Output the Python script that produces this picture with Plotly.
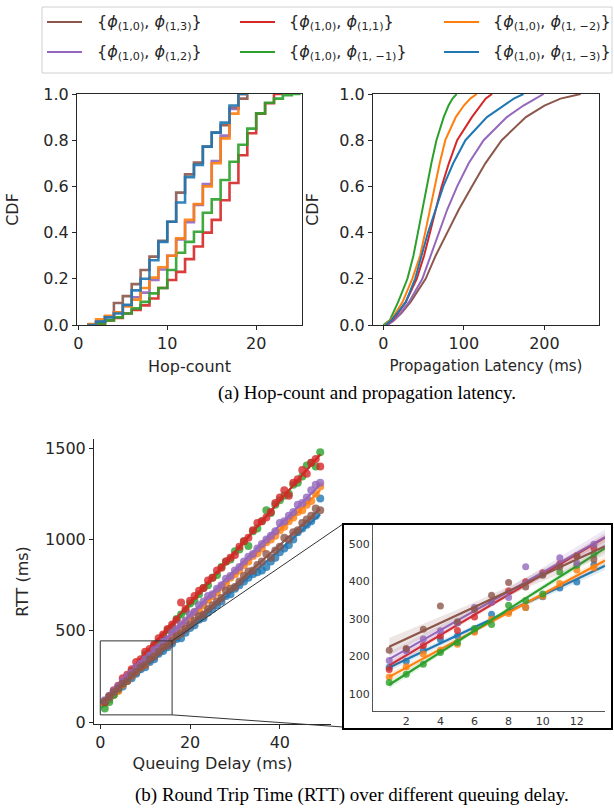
import numpy as np
import plotly.graph_objects as go

W, H = 614, 808
def X(px): return px / W
def Y(py): return 1 - py / H

# ---------------- series ----------------
labels = ["(1,3)", "(1,2)", "(1,1)", "(1, −1)", "(1, −2)", "(1, −3)"]
colors = ["#8c564b", "#9467bd", "#d62728", "#2ca02c", "#ff7f0e", "#1f77b4"]

# ---------------- (a-left) hop-count CDF (value at hop = 1, 2, ...) ----------------
hop_brown  = [0, .014, .036, .095, .125, .177, .238, .296, .364, .447, .573, .652, .703, .772, .833, .865, .94, .98, 1.0]
hop_purple = [0, .015, .035, .055, .085, .12, .14, .195, .24, .30, .37, .445, .52, .61, .71, .82, .935, 1.0, 1.0]
hop_red    = [0, .005, .02, .03, .05, .065, .085, .115, .16, .195, .23, .285, .34, .40, .455, .54, .615, .735, .83, .915, .96, 1.0, 1.0]
hop_green  = [0, .007, .02, .033, .05, .072, .10, .137, .16, .238, .313, .36, .404, .486, .544, .628, .707, .78, .85, .916, .962, .98, .995, 1.0, 1.0]
hop_orange = [.004, .025, .04, .055, .08, .11, .16, .205, .25, .30, .375, .455, .524, .60, .70, .808, .915, 1.0, 1.0]
hop_blue   = [0, .015, .033, .05, .087, .15, .20, .28, .36, .447, .53, .64, .693, .772, .833, .876, .95, 1.0, 1.0]

# ---------------- (a-right) propagation latency CDF ----------------
cdf_levels  = [0, .02, .05, .1, .2, .3, .4, .5, .6, .7, .8, .9, .95, .98, 1.0]
lat_brown   = [5, 13, 22, 34, 52.6, 65, 79.4, 93.8, 110, 126.7, 147, 177, 200, 220, 245]
lat_purple  = [5, 13, 21, 32, 48.5, 58.8, 69, 79.4, 91.7, 106, 124.6, 153.4, 174, 188, 199]
lat_red     = [3, 11, 18, 28, 41.5, 50.6, 58, 65, 72.4, 81.4, 91.7, 110, 120, 127, 135]
lat_green   = [0, 8, 12, 18.5, 30, 37.4, 43, 48.5, 53.5, 59.7, 66, 75, 81, 86, 91]
lat_orange  = [2, 9, 15, 24, 36, 45.7, 52, 58, 64, 70, 77, 90, 100, 108, 116]
lat_blue    = [3, 10, 17, 28, 39.5, 47.7, 55.5, 65, 74.5, 86.8, 102, 128.7, 149, 162, 174]

# ---------------- (b) RTT vs queuing delay ----------------
qdelay = list(range(1, 50))
rtt_blue   = [105, 125, 150, 175, 195, 225, 240, 265, 290, 300, 330, 345, 375, 390, 410, 430, 455, 460, 490, 515,
              530, 560, 570, 600, 620, 640, 660, 690, 700, 730, 750, 770, 790, 810, 820, 830, 850, 880, 900, 930,
              950, 970, 1000, 1040, 1060, 1080, 1100, 1130, 1225]
rtt_orange = [105, 130, 150, 170, 205, 230, 255, 280, 300, 315, 355, 375, 400, 425, 445, 480, 490, 525, 550, 570,
              600, 610, 640, 670, 690, 710, 740, 760, 790, 810, 830, 860, 880, 910, 925, 950, 985, 1000, 1020, 1050,
              1070, 1100, 1120, 1150, 1160, 1190, 1210, 1250, 1290]
rtt_green  = [75, 110, 150, 185, 215, 240, 280, 300, 325, 370, 385, 420, 440, 470, 505, 520, 565, 590, 610, 650,
              665, 700, 735, 750, 790, 805, 850, 880, 890, 935, 945, 990, 965, 1045, 1060, 1100, 1160, 1145, 1190, 1215,
              1240, 1250, 1300, 1310, 1345, 1405, 1420, 1400, 1478]
rtt_red    = [110, 140, 175, 200, 240, 260, 290, 330, 345, 385, 400, 425, 460, 480, 510, 535, 560, 655, 620, 665,
              690, 720, 735, 775, 790, 830, 845, 880, 900, 915, 960, 990, 1010, 1050, 1090, 1100, 1120, 1150, 1200, 1230,
              1270, 1240, 1310, 1330, 1380, 1360, 1420, 1440, 1400]
rtt_purple = [120, 145, 170, 195, 225, 250, 270, 300, 320, 345, 365, 395, 410, 440, 455, 490, 510, 535, 555, 590,
              605, 640, 660, 690, 700, 730, 750, 785, 800, 830, 850, 880, 905, 920, 950, 975, 1000, 1020, 1045, 1090,
              1100, 1130, 1150, 1190, 1200, 1230, 1270, 1300, 1310]
rtt_brown  = [115, 140, 165, 185, 210, 225, 255, 275, 300, 315, 345, 360, 385, 410, 420, 445, 470, 485, 510, 530,
              555, 580, 590, 620, 640, 660, 680, 720, 730, 740, 770, 800, 825, 830, 860, 880, 920, 900, 940, 960,
              1010, 1000, 1040, 1050, 1090, 1110, 1130, 1170, 1160]

# zoomed inset (queuing delay 1..13)
zoom_delay = list(range(1, 14))
zrtt_blue   = [172, 188, 217, 246, 255, 268, 313, 320, 331, 360, 383, 399, 445]
zrtt_orange = [146, 173, 207, 217, 233, 265, 300, 315, 331, 361, 395, 431, 437]
zrtt_green  = [131, 153, 180, 211, 238, 275, 286, 337, 350, 367, 426, 444, 473]
zrtt_red    = [166, 219, 230, 255, 270, 306, 345, 375, 400, 424, 448, 470, 490]
zrtt_purple = [190, 215, 247, 269, 290, 331, 345, 358, 440, 420, 464, 450, 500]
zrtt_brown  = [217, 222, 273, 335, 293, 325, 364, 398, 386, 417, 440, 468, 459]

hop_all = [hop_brown, hop_purple, hop_red, hop_green, hop_orange, hop_blue]
lat_all = [lat_brown, lat_purple, lat_red, lat_green, lat_orange, lat_blue]
rtt_all = [rtt_brown, rtt_purple, rtt_red, rtt_green, rtt_orange, rtt_blue]
zrtt_all = [zrtt_brown, zrtt_purple, zrtt_red, zrtt_green, zrtt_orange, zrtt_blue]

def rgba(hexc, a):
    h = hexc.lstrip('#')
    return f"rgba({int(h[0:2],16)},{int(h[2:4],16)},{int(h[4:6],16)},{a})"

fig = go.Figure()

# ---- top-left: hop-count step CDFs ----
for vals, c in zip(hop_all, colors):
    hops = list(range(1, len(vals) + 1))
    fig.add_trace(go.Scatter(x=hops, y=vals, mode='lines', line=dict(color=c, width=2.6, shape='hv'),
                             opacity=0.9, xaxis='x', yaxis='y', showlegend=False, hoverinfo='skip'))

# ---- top-right: latency CDFs ----
for vals, c in zip(lat_all, colors):
    fig.add_trace(go.Scatter(x=vals, y=cdf_levels, mode='lines', line=dict(color=c, width=2),
                             xaxis='x2', yaxis='y2', showlegend=False, hoverinfo='skip'))

# ---- regression helper ----
def fit_band(xs, ys, xline, tcrit):
    xs = np.asarray(xs, float); ys = np.asarray(ys, float)
    b, a = np.polyfit(xs, ys, 1)
    yhat = a + b * xline
    resid = ys - (a + b * xs)
    n = len(xs)
    s = np.sqrt(np.sum(resid ** 2) / (n - 2))
    sxx = np.sum((xs - xs.mean()) ** 2)
    se = s * np.sqrt(1.0 / n + (xline - xs.mean()) ** 2 / sxx)
    return yhat, yhat - tcrit * se, yhat + tcrit * se

draw_order = [5, 4, 3, 2, 1, 0]  # blue, orange, green, red, purple, brown

# ---- bottom main scatter + regression ----
xl_main = np.linspace(0.3, 49, 60)
for i in draw_order:
    c = colors[i]
    yhat, lo, hi = fit_band(qdelay, rtt_all[i], xl_main, 2.012)
    fig.add_trace(go.Scatter(x=qdelay, y=rtt_all[i], mode='markers',
                             marker=dict(color=c, size=8, opacity=0.8, line=dict(width=0)),
                             xaxis='x3', yaxis='y3', showlegend=False, hoverinfo='skip'))
    fig.add_trace(go.Scatter(x=np.concatenate([xl_main, xl_main[::-1]]), y=np.concatenate([hi, lo[::-1]]),
                             fill='toself', fillcolor=rgba(c, 0.15), line=dict(width=0), mode='lines',
                             xaxis='x3', yaxis='y3', showlegend=False, hoverinfo='skip'))
    fig.add_trace(go.Scatter(x=xl_main, y=yhat, mode='lines', line=dict(color=c, width=2),
                             xaxis='x3', yaxis='y3', showlegend=False, hoverinfo='skip'))

# ---- inset ----
xl_zoom = np.linspace(1, 13.65, 40)
for i in draw_order:
    c = colors[i]
    yhat, lo, hi = fit_band(zoom_delay, zrtt_all[i], xl_zoom, 2.201)
    fig.add_trace(go.Scatter(x=zoom_delay, y=zrtt_all[i], mode='markers',
                             marker=dict(color=c, size=7, opacity=0.8, line=dict(width=0)),
                             xaxis='x4', yaxis='y4', showlegend=False, hoverinfo='skip'))
    fig.add_trace(go.Scatter(x=np.concatenate([xl_zoom, xl_zoom[::-1]]), y=np.concatenate([hi, lo[::-1]]),
                             fill='toself', fillcolor=rgba(c, 0.15), line=dict(width=0), mode='lines',
                             xaxis='x4', yaxis='y4', showlegend=False, hoverinfo='skip'))
    fig.add_trace(go.Scatter(x=xl_zoom, y=yhat, mode='lines', line=dict(color=c, width=2.2),
                             xaxis='x4', yaxis='y4', showlegend=False, hoverinfo='skip'))

# ---------------- axes ----------------
FONT = "DejaVu Sans"
AX = '#262626'
tick_font = dict(family=FONT, size=16, color=AX)
title_font = dict(family=FONT, size=16, color=AX)
boxed = dict(showline=True, mirror=True, linecolor=AX, linewidth=1, ticks='outside', ticklen=4,
             tickcolor=AX, tickfont=tick_font, showgrid=False, zeroline=False, automargin=False)
open_ax = dict(showline=True, mirror=False, linecolor=AX, linewidth=1, ticks='outside', ticklen=4,
               tickcolor=AX, tickfont=tick_font, showgrid=False, zeroline=False, automargin=False)
inset_ax = dict(showline=True, mirror=False, linecolor='#555', linewidth=1, ticks='',
                tickfont=dict(family=FONT, size=11, color='#333'), showgrid=False, zeroline=False,
                automargin=False)
cdf_ticks = [0, 0.2, 0.4, 0.6, 0.8, 1.0]

fig.update_layout(
    width=W, height=H, margin=dict(l=0, r=0, t=0, b=0, autoexpand=False),
    paper_bgcolor='white', plot_bgcolor='white', showlegend=False,
    xaxis=dict(domain=[X(77), X(302)], range=[-0.15, 25.15], tickvals=[0, 10, 20],
               title=dict(text="Hop-count", font=title_font, standoff=8), anchor='y', **boxed),
    yaxis=dict(domain=[Y(325), Y(94)], range=[0, 1], tickvals=cdf_ticks,
               ticktext=[f"{v:.1f}" for v in cdf_ticks],
               title=dict(text="CDF", font=title_font, standoff=20), anchor='x', **boxed),
    xaxis2=dict(domain=[X(373), X(599)], range=[-12.75, 267.75], tickvals=[0, 100, 200],
                title=dict(text="Propagation Latency (ms)", font=dict(family=FONT, size=15, color=AX), standoff=8),
                anchor='y2', **boxed),
    yaxis2=dict(domain=[Y(325), Y(94)], range=[0, 1], tickvals=cdf_ticks,
                ticktext=[f"{v:.1f}" for v in cdf_ticks],
                title=dict(text="CDF", font=title_font, standoff=16), anchor='x2', **boxed),
    xaxis3=dict(domain=[X(94), X(331)], range=[-1.4, 51.4], tickvals=[0, 20, 40],
                title=dict(text="Queuing Delay (ms)", font=title_font, standoff=6), anchor='y3', **open_ax),
    yaxis3=dict(domain=[Y(724), Y(439)], range=[-10, 1550], tickvals=[0, 500, 1000, 1500],
                title=dict(text="RTT (ms)", font=title_font, standoff=12), anchor='x3', **open_ax),
    xaxis4=dict(domain=[X(373), X(605)], range=[0.05, 13.65], tickvals=[2, 4, 6, 8, 10, 12],
                anchor='y4', **inset_ax),
    yaxis4=dict(domain=[Y(711), Y(525)], range=[55, 551], tickvals=[100, 200, 300, 400, 500],
                anchor='x4', **inset_ax),
)

# ---------------- zoom indicator + connectors ----------------
zx0, zx1, zy0, zy1 = 0, 16, 40, 445
fig.add_shape(type='rect', xref='x3', yref='y3', x0=zx0, x1=zx1, y0=zy0, y1=zy1,
              line=dict(color='#333', width=1), fillcolor='rgba(0,0,0,0)')

def to_paper(v, rng, dom):
    return dom[0] + (v - rng[0]) / (rng[1] - rng[0]) * (dom[1] - dom[0])

xr3, yr3 = [-1.4, 51.4], [-10, 1550]
xd3, yd3 = [X(94), X(331)], [Y(724), Y(439)]
cx = to_paper(zx1, xr3, xd3)
fig.add_shape(type='line', xref='paper', yref='paper', x0=cx, y0=to_paper(zy1, yr3, yd3),
              x1=X(343), y1=Y(524), line=dict(color='#333', width=1))
fig.add_shape(type='line', xref='paper', yref='paper', x0=cx, y0=to_paper(zy0, yr3, yd3),
              x1=X(343), y1=Y(727), line=dict(color='#333', width=1))
# inset frame
fig.add_shape(type='rect', xref='paper', yref='paper', x0=X(343), x1=X(612), y0=Y(729), y1=Y(524),
              line=dict(color='black', width=2), fillcolor='rgba(0,0,0,0)')

# ---------------- legend (drawn) ----------------
lx0, lx1, ly0, ly1 = X(42), X(612), Y(73), Y(7)
fig.add_shape(type='rect', xref='paper', yref='paper', x0=lx0, x1=lx1, y0=ly0, y1=ly1,
              line=dict(color='#d0d0d0', width=1), fillcolor='white')
col_line_x = [47, 240, 444]
col_text_x = [95, 287, 491]
row_y = [22, 52]
for k in range(6):
    col, row = k // 2, k % 2
    c = colors[k]
    fig.add_shape(type='line', xref='paper', yref='paper', x0=X(col_line_x[col]), x1=X(col_line_x[col] + 35),
                  y0=Y(row_y[row]), y1=Y(row_y[row]), line=dict(color=c, width=2))
    txt = f"{{<i>ϕ</i><sub>(1,0)</sub>, <i>ϕ</i><sub>{labels[k]}</sub>}}"
    fig.add_annotation(xref='paper', yref='paper', x=X(col_text_x[col]), y=Y(row_y[row]),
                       xanchor='left', yanchor='middle', text=txt, showarrow=False,
                       font=dict(family=FONT, size=16, color=AX))

# ---------------- captions ----------------
cap_font = dict(family="Liberation Serif", size=19, color='black')
fig.add_annotation(xref='paper', yref='paper', x=X(367), y=Y(393), text="(a) Hop-count and propagation latency.",
                   showarrow=False, xanchor='center', yanchor='middle', font=cap_font)
fig.add_annotation(xref='paper', yref='paper', x=X(352), y=Y(795),
                   text="(b) Round Trip Time (RTT) over different queuing delay.",
                   showarrow=False, xanchor='center', yanchor='middle', font=cap_font)

fig.write_html("out.html", config={'displayModeBar': False},
               post_script="document.body.style.margin='0px';document.body.style.overflow='hidden';")
